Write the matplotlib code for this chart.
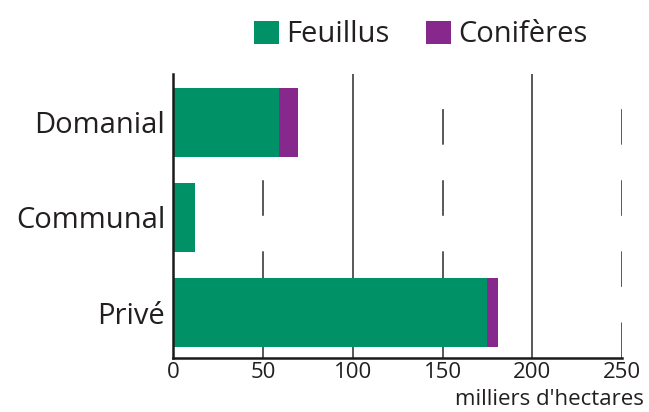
import matplotlib
matplotlib.use("Agg")
import matplotlib.pyplot as plt
import numpy as np

plt.rcParams['font.family'] = ['Open Sans', 'DejaVu Sans']
plt.rcParams['lines.scale_dashes'] = False

# data (milliers d'hectares)
categories = ["Privé", "Communal", "Domanial"]
feuillus = [175, 12, 59]
coniferes = [6, 0, 10.5]
ticks = [0, 50, 100, 150, 200, 250]

green = "#009266"
purple = "#87288D"
txt = "#231F20"
gridc = "#3C3C3C"

fig = plt.figure(figsize=(6.49, 4.12), dpi=100)
ax = fig.add_axes([0.2673, 0.1311, 0.6911, 0.6893])

y = np.arange(len(categories))

# grid lines behind bars: solid at 100/200, dashed at 50/150/250
for t in ticks[1:]:
    if t % 100 == 0:
        ax.axvline(t, color=gridc, lw=1.2, zorder=0)
    else:
        ax.axvline(t, color=gridc, lw=1.2, linestyle=(0, (25.6, 25.6)), zorder=0)

b1 = ax.barh(y, feuillus, height=0.726, color=green, label="Feuillus", zorder=2)
b2 = ax.barh(y, coniferes, left=feuillus, height=0.726, color=purple,
             label="Conifères", zorder=2)

ax.set_xlim(0, 250)
ax.set_ylim(-0.477, 2.505)
ax.set_xticks(ticks)
ax.set_xticklabels([str(t) for t in ticks], fontsize=16, color=txt)
ax.set_yticks(y)
ax.set_yticklabels(categories, fontsize=21, color=txt)
ax.tick_params(axis='x', length=0, pad=3)
ax.tick_params(axis='y', length=0, pad=6)

for s in ['top', 'right']:
    ax.spines[s].set_visible(False)
for s in ['left', 'bottom']:
    ax.spines[s].set_color("#1a1a1a")
    ax.spines[s].set_linewidth(1.8)
    ax.spines[s].set_zorder(3)

fig.text(0.992, 0.03, "milliers d'hectares", ha='right', va='center',
         fontsize=16, color=txt)

fig.legend(handles=[b1, b2], loc='upper left', bbox_to_anchor=(0.36, 1.0),
           ncol=2, frameon=False, fontsize=21, handlelength=0.85,
           handleheight=0.85, handletextpad=0.25, columnspacing=1.25,
           labelcolor=txt, borderaxespad=0.3)

fig.savefig("out.png", dpi=100)
